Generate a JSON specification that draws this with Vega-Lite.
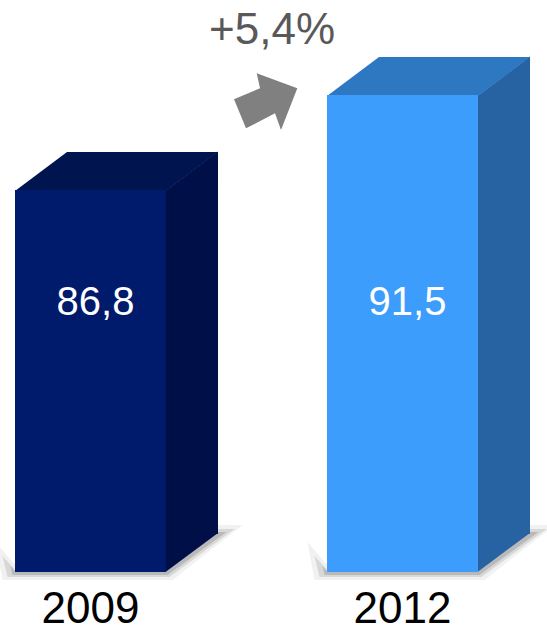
{
  "$schema": "https://vega.github.io/schema/vega-lite/v6.json",
  "width": 547,
  "height": 572,
  "autosize": {"type": "none"},
  "padding": {"left": 0, "top": 0, "right": 0, "bottom": 60},
  "background": "white",
  "config": {"view": {"stroke": null}},
  "data": {"values": [
    {"year": "2009", "value": 86.8, "label": "86,8"},
    {"year": "2012", "value": 91.5, "label": "91,5"}
  ]},
  "encoding": {
    "x": {
      "field": "year", "type": "nominal",
      "scale": {"type": "band", "paddingInner": 0.516, "paddingOuter": 0.1346, "align": 0.1786},
      "axis": {"title": null, "labelAngle": 0, "domain": false, "ticks": false, "labelFontSize": 44, "labelFont": "Liberation Sans", "labelColor": "#000000", "labelPadding": 15, "labelDx": -12}
    }
  },
  "layer": [
    {
      "mark": {"type": "point", "filled": true, "size": 4, "strokeWidth": 0, "opacity": 1, "fill": "#7a7a7a", "fillOpacity": 0.1,
        "shape": "M -95 -30 L -88 8 L 82 8 L 152 -47 L 128 -47 L 75 -8 L -76 -8 Z"},
      "encoding": {"y": {"datum": 67.9, "type": "quantitative", "scale": {"domain": [67.9, 96.2], "nice": false, "zero": false}, "axis": null}}
    },
    {
      "mark": {"type": "point", "filled": true, "size": 4, "strokeWidth": 0, "opacity": 1, "fill": "#6a6a6a", "fillOpacity": 0.18,
        "shape": "M -88 -16 L -83 5 L 79 5 L 144 -43 L 128 -43 L 75 -3 L -76 -3 Z"},
      "encoding": {"y": {"datum": 67.9, "type": "quantitative"}}
    },
    {
      "mark": {"type": "point", "filled": true, "size": 4, "strokeWidth": 0, "opacity": 1, "fill": "#5a5a5a", "fillOpacity": 0.25,
        "shape": "M -80 -6 L -78 3 L 77 3 L 136 -40 L 128 -40 L 75 -1 L -76 -1 Z"},
      "encoding": {"y": {"datum": 67.9, "type": "quantitative"}}
    },
    {
      "mark": {"type": "bar", "width": 52, "xOffset": 101.5, "y2Offset": -38},
      "encoding": {
        "y": {"field": "value", "type": "quantitative"},
        "y2": {"datum": 67.9},
        "color": {"field": "year", "type": "nominal", "scale": {"range": ["#000F47", "#2763A3"]}, "legend": null}
      }
    },
    {
      "mark": {"type": "point", "filled": true, "size": 4, "strokeWidth": 0, "opacity": 1,
        "shape": "M 75 1 L 127.5 -38.5 L 127.5 1 Z"},
      "encoding": {
        "y": {"field": "value", "type": "quantitative"},
        "color": {"field": "year", "type": "nominal", "scale": {"range": ["#000F47", "#2763A3"]}, "legend": null}
      }
    },
    {
      "mark": {"type": "point", "filled": true, "size": 4, "strokeWidth": 0, "opacity": 1,
        "shape": "M 75 -39 L 127.5 -39 L 75 0 Z"},
      "encoding": {
        "y": {"datum": 67.9, "type": "quantitative"},
        "color": {"field": "year", "type": "nominal", "scale": {"range": ["#000F47", "#2763A3"]}, "legend": null}
      }
    },
    {
      "mark": {"type": "point", "filled": true, "size": 4, "strokeWidth": 0, "opacity": 1,
        "shape": "M -75.5 1 L 75.5 1 L 127.5 -38 L -23.5 -38 Z"},
      "encoding": {
        "y": {"field": "value", "type": "quantitative"},
        "color": {"field": "year", "type": "nominal", "scale": {"range": ["#00144F", "#2E78C2"]}, "legend": null}
      }
    },
    {
      "mark": {"type": "bar"},
      "encoding": {
        "y": {"field": "value", "type": "quantitative"},
        "y2": {"datum": 67.9},
        "color": {"field": "year", "type": "nominal", "scale": {"range": ["#001A6C", "#3C9DFD"]}, "legend": null}
      }
    },
    {
      "mark": {"type": "text", "color": "white", "fontSize": 40, "font": "Liberation Sans", "baseline": "middle", "align": "center", "dx": 5},
      "encoding": {
        "y": {"datum": 81.2, "type": "quantitative"},
        "text": {"field": "label"}
      }
    },
    {
      "data": {"values": [{"year": "2012", "value": 91.5, "change": "+5,4%"}]},
      "layer": [
        {
          "mark": {"type": "point", "filled": true, "size": 4, "strokeWidth": 0, "opacity": 1, "fill": "#808080",
            "xOffset": -136.5, "yOffset": 7,
            "shape": "M -32 -2.7 L -6 -13.7 L -9.3 -28.7 L 31.3 -13.7 L 15 28 L 9 11.3 L -20 26.3 Z"},
          "encoding": {"y": {"field": "value", "type": "quantitative"}}
        },
        {
          "mark": {"type": "text", "color": "#595959", "fontSize": 44, "font": "Liberation Sans", "baseline": "middle", "align": "center", "dx": -130.5, "dy": -64},
          "encoding": {"y": {"field": "value", "type": "quantitative"}, "text": {"field": "change"}}
        }
      ]
    }
  ],
  "resolve": {"scale": {"color": "independent"}}
}
